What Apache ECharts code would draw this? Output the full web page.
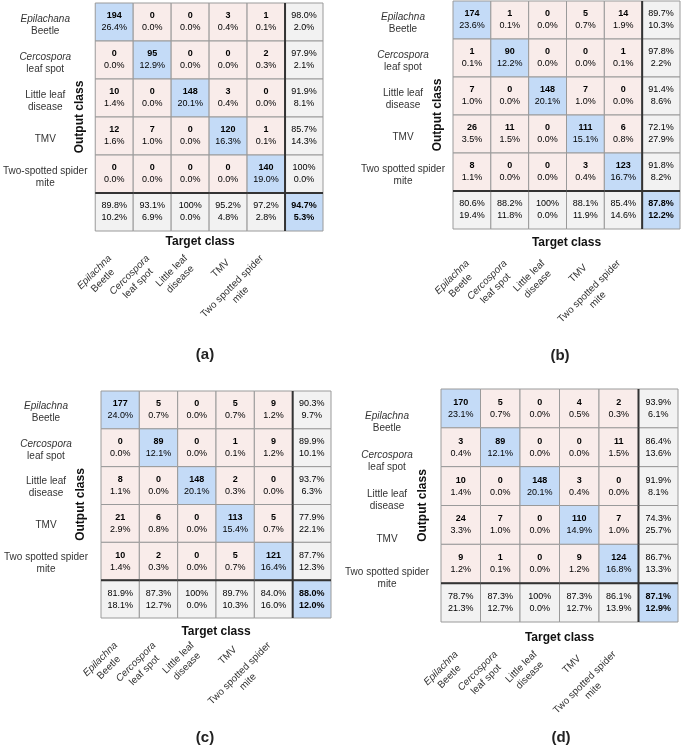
<!DOCTYPE html>
<html>
<head>
<meta charset="utf-8">
<title>Confusion matrices</title>
<script src="https://cdn.jsdelivr.net/npm/echarts@6/dist/echarts.min.js"></script>
<style>
  html, body { margin: 0; padding: 0; background: #fff; }
  #chart { width: 685px; height: 749px; }
</style>
</head>
<body>
<div id="chart"></div>
<script>
// class names as printed on the axes
const targetLabels = ['Epilachna\nBeetle', 'Cercospora\nleaf spot', 'Little leaf\ndisease', 'TMV', 'Two spotted spider\nmite'];
const outputLabelsA = ['Epilachana\nBeetle', 'Cercospora\nleaf spot', 'Little leaf\ndisease', 'TMV', 'Two-spotted spider\nmite'];
const outputLabels = ['Epilachna\nBeetle', 'Cercospora\nleaf spot', 'Little leaf\ndisease', 'TMV', 'Two spotted spider\nmite'];
const italicWords = ['Epilachana', 'Epilachna', 'Cercospora'];
const panelNames = ['(a)', '(b)', '(c)', '(d)'];

// rows = output class, columns = target class
const countsA = [
  [194, 0, 0, 3, 1],
  [0, 95, 0, 0, 2],
  [10, 0, 148, 3, 0],
  [12, 7, 0, 120, 1],
  [0, 0, 0, 0, 140]
];
const countsB = [
  [174, 1, 0, 5, 14],
  [1, 90, 0, 0, 1],
  [7, 0, 148, 7, 0],
  [26, 11, 0, 111, 6],
  [8, 0, 0, 3, 123]
];
const countsC = [
  [177, 5, 0, 5, 9],
  [0, 89, 0, 1, 9],
  [8, 0, 148, 2, 0],
  [21, 6, 0, 113, 5],
  [10, 2, 0, 5, 121]
];
const countsD = [
  [170, 5, 0, 4, 2],
  [3, 89, 0, 0, 11],
  [10, 0, 148, 3, 0],
  [24, 7, 0, 110, 7],
  [9, 1, 0, 9, 124]
];

const FONT = '"Liberation Sans", Arial, sans-serif';

const panels = [
  { counts: countsA, rows: outputLabelsA, grid: { left: 95, top: 3, width: 228, height: 228 },
    rowMargin: 50, rowShift: 6, yNameGap: 10, xNameGap: 5, xNameShift: 18, xLabelMargin: 30, tag: [205, 355] },
  { counts: countsB, rows: outputLabels, grid: { left: 453, top: 1, width: 227, height: 228 },
    rowMargin: 50, rowShift: 6, yNameGap: 9, xNameGap: 8, xNameShift: 0, xLabelMargin: 37, tag: [560, 356] },
  { counts: countsC, rows: outputLabels, grid: { left: 101, top: 391, width: 230, height: 227 },
    rowMargin: 55, rowShift: 4, yNameGap: 14, xNameGap: 8, xNameShift: 0, xLabelMargin: 30, tag: [205, 738] },
  { counts: countsD, rows: outputLabels, grid: { left: 441, top: 389, width: 237, height: 233 },
    rowMargin: 54, rowShift: 28, yNameGap: 12, xNameGap: 10, xNameShift: 0, xLabelMargin: 35, tag: [561, 738] }
];

const COLORS = {
  diag: '#c4dbf7',
  off: '#f9ecea',
  sum: '#f2f2f2',
  grid: '#9a9a9a',
  sep: '#333333'
};

const cellRich = {
  n: { fontFamily: FONT, fontSize: 9, fontWeight: 'bold', color: '#111', lineHeight: 12 },
  p: { fontFamily: FONT, fontSize: 9, color: '#3a3a3a', lineHeight: 12 },
  g: { fontFamily: FONT, fontSize: 9, color: '#4caf58', lineHeight: 12 },
  r: { fontFamily: FONT, fontSize: 9, color: '#d4625e', lineHeight: 12 },
  gb: { fontFamily: FONT, fontSize: 9, fontWeight: 'bold', color: '#2f9c42', lineHeight: 12 },
  rb: { fontFamily: FONT, fontSize: 9, fontWeight: 'bold', color: '#d3383b', lineHeight: 12 }
};

const labelRich = {
  c: { fontFamily: FONT, fontSize: 10, color: '#333', align: 'center', lineHeight: 12 },
  ic: { fontFamily: FONT, fontSize: 10, color: '#333', align: 'center', lineHeight: 12, fontStyle: 'italic' }
};

function toRich(label) {
  if (!label) return '';
  return label.split('\n')
    .map(line => (italicWords.includes(line) ? '{ic|' : '{c|') + line + '}')
    .join('\n');
}

function pct(v) {
  return v === 100 ? '100%' : v.toFixed(1) + '%';
}

function buildCells(counts) {
  const n = counts.length;
  let total = 0;
  let correct = 0;
  const rowSums = counts.map(row => row.reduce((a, b) => a + b, 0));
  const colSums = counts[0].map((_, c) => counts.reduce((a, row) => a + row[c], 0));
  counts.forEach((row, r) => { total += rowSums[r]; correct += row[r]; });

  const cells = [];
  for (let r = 0; r <= n; r++) {
    for (let c = 0; c <= n; c++) {
      let text, fill;
      if (r < n && c < n) {
        const v = counts[r][c];
        text = '{n|' + v + '}\n{p|' + (v / total * 100).toFixed(1) + '%}';
        fill = r === c ? COLORS.diag : COLORS.off;
      } else if (r < n) {
        const good = counts[r][r] / rowSums[r] * 100;
        text = '{g|' + pct(good) + '}\n{r|' + pct(100 - good) + '}';
        fill = COLORS.sum;
      } else if (c < n) {
        const good = counts[c][c] / colSums[c] * 100;
        text = '{g|' + pct(good) + '}\n{r|' + pct(100 - good) + '}';
        fill = COLORS.sum;
      } else {
        const good = correct / total * 100;
        text = '{gb|' + pct(good) + '}\n{rb|' + pct(100 - good) + '}';
        fill = COLORS.diag;
      }
      cells.push({ row: r, col: c, text, fill, value: [c, r] });
    }
  }
  return cells;
}

function makeRenderer(cells, n) {
  return function (params, api) {
    const info = cells[params.dataIndex];
    const center = api.coord([api.value(0), api.value(1)]);
    const size = api.size([1, 1]);
    const x = center[0] - size[0] / 2;
    const y = center[1] - size[1] / 2;
    const children = [
      {
        type: 'rect',
        shape: { x, y, width: size[0], height: size[1] },
        style: { fill: info.fill, stroke: COLORS.grid, lineWidth: 1 }
      },
      {
        type: 'text',
        z2: 5,
        style: {
          x: center[0], y: center[1], text: info.text, rich: cellRich,
          align: 'center', verticalAlign: 'middle'
        }
      }
    ];
    if (info.col === n) {
      children.push({
        type: 'line', z2: 10,
        shape: { x1: x, y1: y, x2: x, y2: y + size[1] },
        style: { stroke: COLORS.sep, lineWidth: 2 }
      });
    }
    if (info.row === n) {
      children.push({
        type: 'line', z2: 10,
        shape: { x1: x, y1: y, x2: x + size[0], y2: y },
        style: { stroke: COLORS.sep, lineWidth: 2 }
      });
    }
    return { type: 'group', children };
  };
}

const grids = [];
const xAxes = [];
const yAxes = [];
const series = [];
const graphics = [];

panels.forEach((p, i) => {
  const n = p.counts.length;
  const cells = buildCells(p.counts);

  grids.push(p.grid);

  xAxes.push({
    type: 'category',
    gridIndex: i,
    data: targetLabels.concat(['']),
    name: 'Target class',
    nameLocation: 'middle',
    nameGap: p.xNameGap,
    nameMoveOverlap: false,
    nameTextStyle: {
      fontFamily: FONT, fontSize: 12, fontWeight: 'bold', color: '#111',
      padding: [0, p.xNameShift, 0, 0]
    },
    axisLine: { show: false },
    axisTick: { show: false },
    splitLine: { show: false },
    axisLabel: {
      interval: 0,
      rotate: 45,
      margin: p.xLabelMargin,
      formatter: v => toRich(v),
      rich: labelRich
    }
  });

  yAxes.push({
    type: 'category',
    gridIndex: i,
    inverse: true,
    data: p.rows.concat(['']),
    name: 'Output class',
    nameLocation: 'middle',
    nameRotate: 90,
    nameGap: p.yNameGap,
    nameMoveOverlap: false,
    nameTextStyle: { fontFamily: FONT, fontSize: 12, fontWeight: 'bold', color: '#111' },
    axisLine: { show: false },
    axisTick: { show: false },
    splitLine: { show: false },
    axisLabel: {
      interval: 0,
      align: 'center',
      margin: p.rowMargin,
      padding: [p.rowShift, 0, 0, 0],
      formatter: v => toRich(v),
      rich: labelRich
    }
  });

  series.push({
    type: 'custom',
    xAxisIndex: i,
    yAxisIndex: i,
    data: cells.map(c => c.value),
    encode: { x: 0, y: 1 },
    renderItem: makeRenderer(cells, n),
    silent: true
  });

  graphics.push({
    type: 'text',
    x: p.tag[0],
    y: p.tag[1],
    style: {
      text: panelNames[i], fontFamily: FONT, fontSize: 15, fontWeight: 'bold',
      fill: '#222', align: 'center', verticalAlign: 'middle'
    }
  });
});

const chart = echarts.init(document.getElementById('chart'), null, { renderer: 'canvas' });
chart.setOption({
  animation: false,
  backgroundColor: '#ffffff',
  textStyle: { fontFamily: FONT },
  grid: grids,
  xAxis: xAxes,
  yAxis: yAxes,
  series: series,
  graphic: graphics
});
</script>
</body>
</html>
